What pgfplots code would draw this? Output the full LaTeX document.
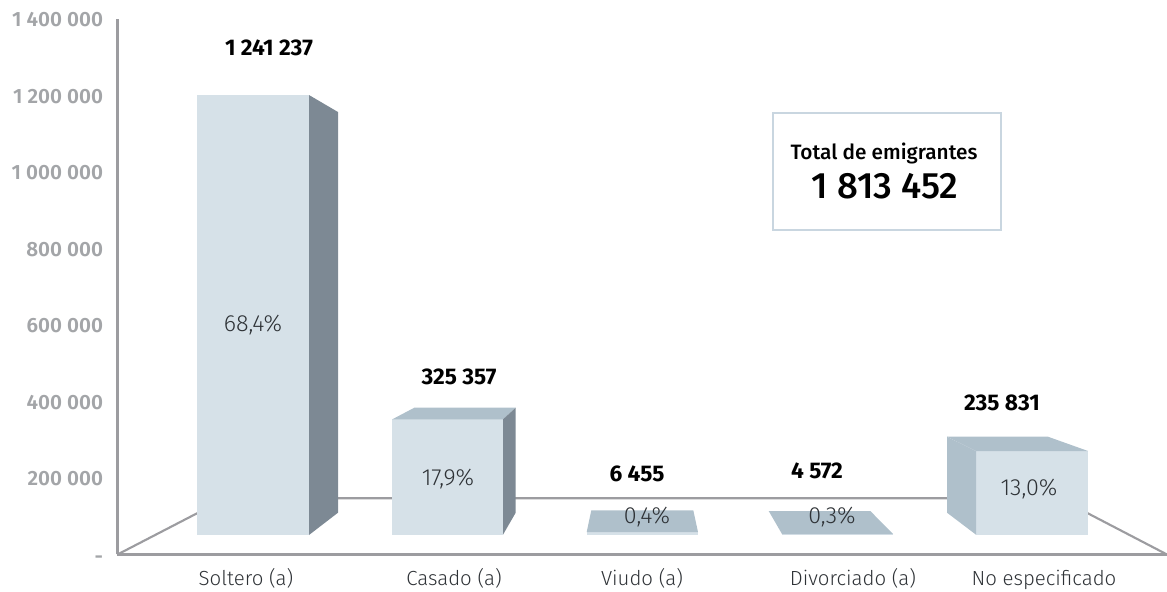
\documentclass[border=0pt]{standalone}
\usepackage{pgfplots}
\pgfplotsset{compat=1.18}
\usepackage{fontspec}
\setmainfont{Fira Sans}
\newfontfamily\lightf{Fira Sans Light}
\newfontfamily\medf{Fira Sans Medium}
\newfontfamily\semif{Fira Sans SemiBold}
\definecolor{axisgr}{HTML}{9C9CA0}
\definecolor{ticktx}{HTML}{A3A5A8}
\definecolor{front}{HTML}{D6E1E8}
\definecolor{side}{HTML}{7D8994}
\definecolor{topf}{HTML}{AFC0CB}
\definecolor{boxc}{HTML}{C9D6E0}
\definecolor{pct}{HTML}{2E3236}
\newcommand{\tl}{\fontsize{15.5}{17}\selectfont}
\begin{document}
\begin{tikzpicture}[x=0.75pt,y=0.75pt]
\useasboundingbox (-117.5,-37.5) rectangle (1049.5,554.5);
\begin{axis}[
  anchor=origin, at={(0,0)},
  scale only axis, width=787.125pt, height=401.6pt,
  xmin=117.5, xmax=1167, ymin=0, ymax=1400000,
  axis x line*=bottom, axis y line*=left,
  axis line style={draw=axisgr, line width=1.6pt, -},
  clip=false, major tick length=0pt, tick style={draw=none},
  scaled y ticks=false,
  ytick={0,200000,400000,600000,800000,1000000,1200000,1400000},
  yticklabels={\smash{\raisebox{-6pt}{-}},200 000,400 000,600 000,800 000,1 000 000,1 200 000,1 400 000},
  yticklabel style={font=\tl\semif, text=ticktx, anchor=east, xshift=-7.3pt, yshift=-0.7pt},
  xtick={246,454,642,853,1044},
  xticklabels={Soltero (a),Casado (a),Viudo (a),Divorciado (a),No especificado},
  xticklabel style={font=\lightf\fontsize{15.3}{17}\selectfont, text=pct, anchor=base, yshift=-23.5pt},
]
% floor lines
\addplot[draw=axisgr, line width=1.6pt] coordinates {(117.5,0) (226,146929) (1059,146929) (1167,0)};
% bar 1
\addplot[fill=front, draw=none] coordinates {(197,50980) (197,1201317) (309,1201317) (309,50980)} --cycle;
\addplot[fill=side, draw=none] coordinates {(309,1201317) (338,1156872) (338,109282) (309,50980)} --cycle;
% bar 2
\addplot[fill=front, draw=none] coordinates {(392.3,51765) (392.3,353467) (503,353467) (503,51765)} --cycle;
\addplot[fill=topf, draw=none] coordinates {(392.3,353467) (414.3,383794) (515.7,383794) (503,353467)} --cycle;
\addplot[fill=side, draw=none] coordinates {(503,353467) (515.7,383794) (515.7,109282) (503,51765)} --cycle;
% bar 3
\addplot[fill=front, draw=none] coordinates {(586.7,51765) (586.7,58824) (698,58824) (698,51765)} --cycle;
\addplot[fill=topf, draw=none] coordinates {(586.7,58824) (591.3,115556) (693.3,115556) (698,58824)} --cycle;
% bar 4
\addplot[fill=front, draw=none] coordinates {(782,51765) (782,53595) (893,53595) (893,51765)} --cycle;
\addplot[fill=topf, draw=none] coordinates {(782,53595) (768.7,113726) (870.3,113726) (893,53595)} --cycle;
% bar 5
\addplot[fill=front, draw=none] coordinates {(976,51765) (976,270590) (1088,270590) (1088,51765)} --cycle;
\addplot[fill=topf, draw=none] coordinates {(976,270590) (947,307976) (1048,307976) (1088,270590)} --cycle;
\addplot[fill=topf, draw=none] coordinates {(947,307976) (976,270590) (976,51765) (947,109282)} --cycle;
% box
\draw[boxc, line width=1.8pt] (axis cs:773,1154258) rectangle (axis cs:1001,848373);
\node[font=\medf\fontsize{15.6}{17}\selectfont] at (axis cs:884,1049682) {Total de emigrantes};
\node[font=\medf\fontsize{27.5}{30}\selectfont] at (axis cs:885,963406) {1 813 452};
% values
\node[font=\fontsize{17}{19}\selectfont\bfseries] at (axis cs:269,1324194) {1 241 237};
\node[font=\fontsize{17}{19}\selectfont\bfseries] at (axis cs:459,464056) {325 357};
\node[font=\fontsize{17}{19}\selectfont\bfseries] at (axis cs:637,210459) {6 455};
\node[font=\fontsize{17}{19}\selectfont\bfseries] at (axis cs:817,218302) {4 572};
\node[font=\fontsize{17}{19}\selectfont\bfseries] at (axis cs:1002,396082) {235 831};
\node[font=\lightf\fontsize{17.5}{19}\selectfont, text=pct] at (axis cs:253,600005) {68,4\%};
\node[font=\lightf\fontsize{17.5}{19}\selectfont, text=pct] at (axis cs:448,197387) {17,9\%};
\node[font=\lightf\fontsize{17.5}{19}\selectfont, text=pct] at (axis cs:647,98040) {0,4\%};
\node[font=\lightf\fontsize{17.5}{19}\selectfont, text=pct] at (axis cs:832,98040) {0,3\%};
\node[font=\lightf\fontsize{17.5}{19}\selectfont, text=pct] at (axis cs:1029,171243) {13,0\%};
\end{axis}
\end{tikzpicture}
\end{document}
